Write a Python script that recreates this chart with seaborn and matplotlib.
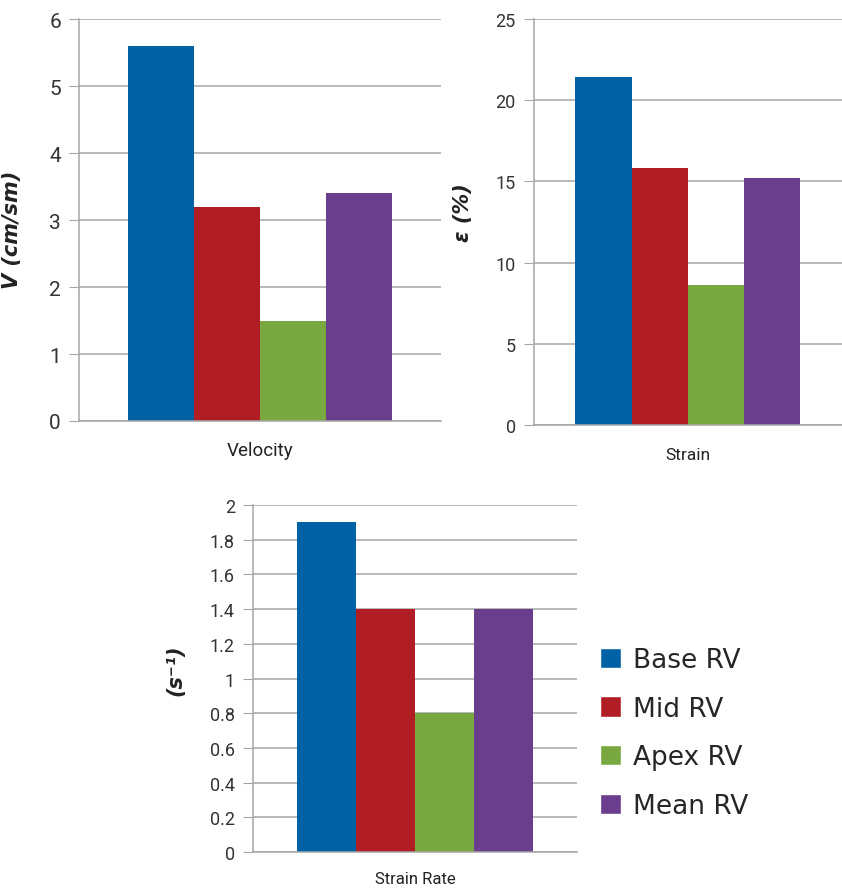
import pandas as pd
import matplotlib
matplotlib.use('Agg')
import matplotlib.pyplot as plt
import seaborn as sns

# data
regions = ['Base RV', 'Mid RV', 'Apex RV', 'Mean RV']
colors = ['#0062A5', '#B01D24', '#79A840', '#6A3D8D']
velocity = [5.6, 3.2, 1.5, 3.4]
strain = [21.4, 15.8, 8.6, 15.2]
strain_rate = [1.9, 1.4, 0.8, 1.4]

sns.set_style('white')
plt.rcParams['font.family'] = ['Roboto', 'DejaVu Sans']

fig = plt.figure(figsize=(8.42, 8.95), dpi=100)

panels = [
    # metric, values, ylabel, yticks, ticklabels, position, label coords, tick size, xlabel size, xpad
    ('Velocity', velocity, 'V (cm/sm)', [0, 1, 2, 3, 4, 5, 6], None,
     [0.0938, 0.5285, 0.430, 0.449], (-0.157, 0.478), 15, 13.5, 11),
    ('Strain', strain, 'ε (%)', [0, 5, 10, 15, 20, 25], None,
     [0.634, 0.524, 0.366, 0.4537], (-0.198, 0.525), 13, 12.5, 12),
    ('Strain Rate', strain_rate, '(s⁻¹)', [0, 0.2, 0.4, 0.6, 0.8, 1, 1.2, 1.4, 1.6, 1.8, 2],
     ['0', '0.2', '0.4', '0.6', '0.8', '1', '1.2', '1.4', '1.6', '1.8', '2'],
     [0.3005, 0.0469, 0.3848, 0.3877], (-0.21, 0.527), 13, 12, 10),
]

for metric, vals, ylab, yt, ytl, pos, lc, tsize, xsize, xpad in panels:
    ax = fig.add_axes(pos)
    df = pd.DataFrame({'metric': metric, 'region': regions, 'value': vals})
    sns.barplot(data=df, x='metric', y='value', hue='region', hue_order=regions,
                palette=colors, width=0.73, saturation=1, linewidth=0,
                ax=ax, legend=False)
    ax.set_xlim(-0.5, 0.5)
    ax.set_ylim(0, yt[-1])
    ax.set_yticks(yt)
    if ytl:
        ax.set_yticklabels(ytl)
    ax.set_axisbelow(True)
    ax.yaxis.grid(True, color='#A6A6A6', linewidth=1.1)
    for s in ['top', 'right']:
        ax.spines[s].set_visible(False)
    for s in ['left', 'bottom']:
        ax.spines[s].set_color('#A6A6A6')
        ax.spines[s].set_linewidth(1.1)
    ax.tick_params(axis='y', left=True, length=7, color='#A6A6A6', labelsize=tsize,
                   labelcolor='#333333', pad=6)
    ax.tick_params(axis='x', bottom=False, labelsize=xsize, labelcolor='#222222', pad=xpad)
    ax.set_xlabel('')
    ax.set_ylabel(ylab, fontsize=15, fontweight='bold', fontstyle='italic',
                  family='DejaVu Sans', color='#222222')
    ax.yaxis.set_label_coords(*lc)

handles = [plt.Rectangle((0, 0), 1, 1, facecolor=c) for c in colors]
leg = fig.legend(handles, regions, loc='upper left', bbox_to_anchor=(0.7126, 0.276),
                 frameon=False, handlelength=0.8, handleheight=0.8, borderpad=0,
                 borderaxespad=0, handletextpad=0.45, labelspacing=0.86,
                 prop={'family': 'DejaVu Sans', 'size': 19})

fig.savefig('out.png', dpi=100)
